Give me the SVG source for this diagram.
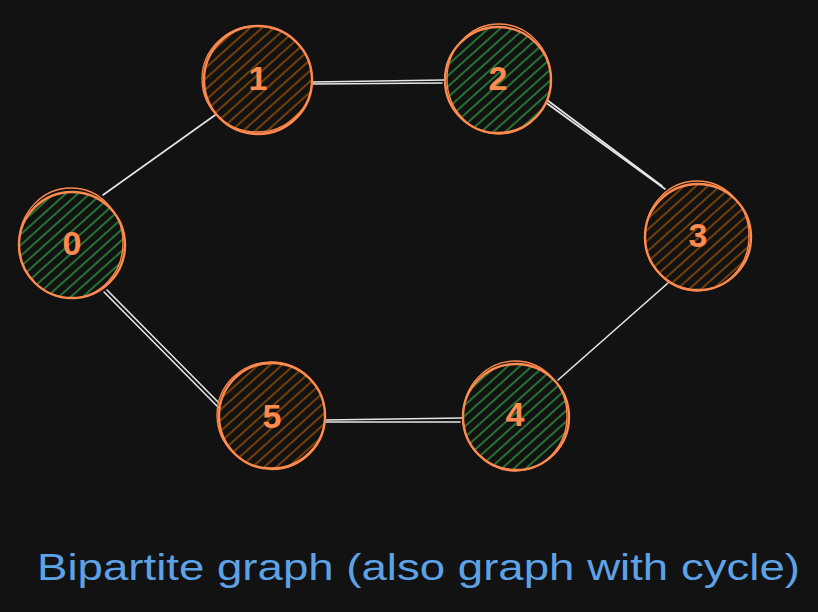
<svg xmlns="http://www.w3.org/2000/svg" width="818" height="612" viewBox="0 0 818 612">
<defs>
<pattern id="hBrown" patternUnits="userSpaceOnUse" width="8" height="8" patternTransform="rotate(-42)">
<rect width="8" height="8" fill="#121212"/>
<line x1="0" y1="4" x2="8" y2="4" stroke="#8a4a06" stroke-width="1.6"/>
</pattern>
<pattern id="hGreen" patternUnits="userSpaceOnUse" width="8" height="8" patternTransform="rotate(-42)">
<rect width="8" height="8" fill="#121212"/>
<line x1="0" y1="4" x2="8" y2="4" stroke="#2a8a37" stroke-width="1.6"/>
</pattern>
</defs>
<style>
.edge{stroke:#e6e6e6;stroke-width:1.6;fill:none;stroke-linecap:round}
.ring{stroke:#ff8a4f;stroke-width:2.4}
.brown{fill:url(#hBrown)}
.green{fill:url(#hGreen)}
.ring2{fill:none;stroke:#ff8a4f;stroke-width:1.3}
.lbl{font-family:"Liberation Sans","DejaVu Sans",sans-serif;font-size:34px;font-weight:bold;fill:#ff8a4f;text-anchor:middle;dominant-baseline:central}
.cap{font-family:"Liberation Sans","DejaVu Sans",sans-serif;font-size:37px;fill:#5ea2e6}
</style>
<rect width="818" height="612" fill="#121212"/>
<g id="connectors">
<line class="edge" x1="103" y1="195" x2="218" y2="113"/>
<line class="edge" x1="312" y1="82" x2="445" y2="80"/>
<line class="edge" x1="312" y1="84" x2="442" y2="83"/>
<line class="edge" x1="545" y1="102" x2="665" y2="189"/>
<line class="edge" x1="547" y1="100" x2="662" y2="186"/>
<line class="edge" x1="668" y1="283" x2="558" y2="380"/>
<line class="edge" x1="104" y1="292" x2="219" y2="408"/>
<line class="edge" x1="107" y1="290" x2="221" y2="405"/>
<line class="edge" x1="325" y1="420" x2="462" y2="418"/>
<line class="edge" x1="325" y1="422" x2="460" y2="422"/>
</g>
<g id="node-0">
<circle cx="72" cy="245" r="53" class="ring green"/>
<ellipse cx="71" cy="243" rx="52" ry="55" class="ring2"/>
<text class="lbl" x="72" y="243">0</text>
</g>
<g id="node-1">
<circle cx="258" cy="80" r="54" class="ring brown"/>
<ellipse cx="257" cy="79" rx="55" ry="53" class="ring2"/>
<text class="lbl" x="258" y="78">1</text>
</g>
<g id="node-2">
<circle cx="498" cy="80" r="53" class="ring green"/>
<ellipse cx="499" cy="79" rx="52" ry="55" class="ring2"/>
<text class="lbl" x="498" y="78">2</text>
</g>
<g id="node-3">
<circle cx="698" cy="237" r="53" class="ring brown"/>
<ellipse cx="697" cy="236" rx="52" ry="55" class="ring2"/>
<text class="lbl" x="698" y="235">3</text>
</g>
<g id="node-5">
<circle cx="272" cy="416" r="53" class="ring brown"/>
<ellipse cx="271" cy="415" rx="54" ry="53" class="ring2"/>
<text class="lbl" x="272" y="416">5</text>
</g>
<g id="node-4">
<circle cx="516" cy="417" r="53" class="ring green"/>
<ellipse cx="515" cy="416" rx="52" ry="55" class="ring2"/>
<text class="lbl" x="515" y="414">4</text>
</g>
<text class="cap" x="37" y="580" textLength="763" lengthAdjust="spacingAndGlyphs">Bipartite graph (also graph with cycle)</text>
</svg>
